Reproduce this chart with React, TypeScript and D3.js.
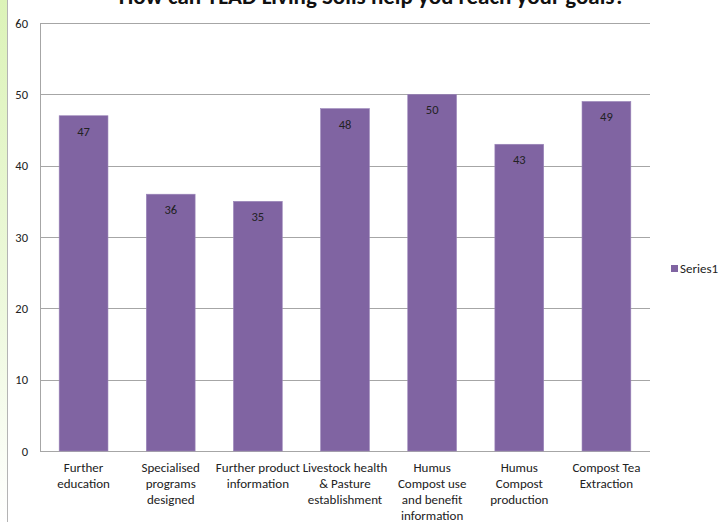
import React from 'react';
import * as d3 from 'd3';

const title = 'How can YLAD Living Soils help you reach your goals?';
const categories = [
  'Further\neducation',
  'Specialised\nprograms\ndesigned',
  'Further product\ninformation',
  'Livestock health\n& Pasture\nestablishment',
  'Humus\nCompost use\nand benefit\ninformation',
  'Humus\nCompost\nproduction',
  'Compost Tea\nExtraction',
];
const series1 = [47, 36, 35, 48, 50, 43, 49];
const yTicks = [0, 10, 20, 30, 40, 50, 60];
const seriesName = 'Series1';

const W = 722;
const H = 522;
const FONT = "Carlito, Calibri, 'Liberation Sans', Arial, sans-serif";

const App: React.FC = () => {
  const margin = { top: 23, right: 72, bottom: 71, left: 40 };
  const plotW = W - margin.left - margin.right;
  const plotH = H - margin.top - margin.bottom;

  const x = d3.scaleBand<number>()
    .domain(d3.range(categories.length))
    .range([0, plotW])
    .paddingInner(0.44)
    .paddingOuter(0.22);

  const y = d3.scaleLinear().domain([0, 60]).range([plotH, 0]);

  return (
    <svg
      width={W}
      height={H}
      style={{ position: 'absolute', left: 0, top: 0, background: '#fff', fontFamily: FONT }}
    >
      <defs>
        <linearGradient id="edge" x1="0" y1="0" x2="0" y2="1">
          <stop offset="0" stopColor="#dcf3b8" />
          <stop offset="0.6" stopColor="#eef9de" />
          <stop offset="1" stopColor="#ffffff" />
        </linearGradient>
      </defs>

      {/* left page edge */}
      <rect x={0} y={0} width={7} height={H} fill="url(#edge)" />
      <line x1={7.5} x2={7.5} y1={0} y2={H} stroke="#b4b4b4" />

      {/* title (cropped at the top, as in the source) */}
      <text x={372} y={4} textAnchor="middle" fontSize={23} fontWeight="bold" fill="#111">
        {title}
      </text>

      <g transform={`translate(${margin.left},${margin.top})`}>
        {/* gridlines */}
        {yTicks.map(t => (
          <line key={t} x1={0} x2={plotW} y1={Math.round(y(t)) + 0.5} y2={Math.round(y(t)) + 0.5}
            stroke="#a6a6a6" />
        ))}
        <line x1={0.5} x2={0.5} y1={0} y2={plotH} stroke="#a6a6a6" />

        {/* y tick labels */}
        {yTicks.map(t => (
          <text key={t} x={-12} y={y(t) + 4.5} textAnchor="end" fontSize={12.5} fill="#222">{t}</text>
        ))}

        {/* bars */}
        {series1.map((v, i) => (
          <g key={i}>
            <rect x={x(i)} y={y(v)} width={x.bandwidth()} height={plotH - y(v)}
              fill="#8064a2" stroke="#9b86b9" strokeWidth={0.6} />
            <text x={(x(i) || 0) + x.bandwidth() / 2} y={y(v) + 20} textAnchor="middle"
              fontSize={12.5} fill="#222">{v}</text>
          </g>
        ))}

        {/* category labels */}
        {categories.map((c, i) => (
          <text key={i} x={(x(i) || 0) + x.bandwidth() / 2} textAnchor="middle" fontSize={13} fill="#222">
            {c.split('\n').map((ln, j) => (
              <tspan key={j} x={(x(i) || 0) + x.bandwidth() / 2} y={plotH + 21 + j * 16}>{ln}</tspan>
            ))}
          </text>
        ))}
      </g>

      {/* legend */}
      <rect x={671} y={265} width={7} height={7} fill="#8064a2" />
      <text x={680} y={273} fontSize={13} fill="#222">{seriesName}</text>
    </svg>
  );
};

export default App;
